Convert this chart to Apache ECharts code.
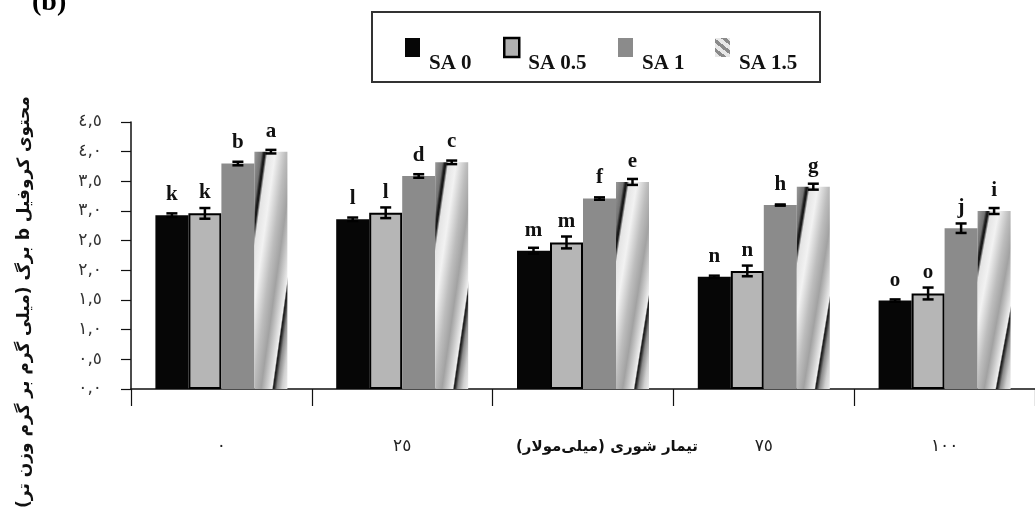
<!DOCTYPE html>
<html>
<head>
<meta charset="utf-8">
<script src="https://cdn.jsdelivr.net/npm/echarts@6/dist/echarts.min.js"></script>
<style>
  html, body { margin: 0; padding: 0; background: #fff; }
  #chart { width: 1035px; height: 516px; }
</style>
</head>
<body>
<div id="chart"></div>
<script>
// Salinity treatments (mM) and the tick labels printed under each group
const categories = ['0', '25', '50', '75', '100'];
const xTickLabels = ['٠', '٢٥', '', '٧٥', '١٠٠'];
const yTickLabels = ['٠,٠', '٠,٥', '١,٠', '١,٥', '٢,٠', '٢,٥', '٣,٠', '٣,٥', '٤,٠', '٤,٥'];

// Series names (salicylic acid levels)
const seriesNames = ['SA 0', 'SA 0.5', 'SA 1', 'SA 1.5'];

// Chlorophyll b content, mean values
const sa0  = [2.93, 2.86, 2.33, 1.89, 1.49];
const sa05 = [2.96, 2.97, 2.47, 1.99, 1.61];
const sa1  = [3.80, 3.59, 3.21, 3.10, 2.71];
const sa15 = [4.00, 3.82, 3.49, 3.41, 3.00];

// Standard errors
const err0  = [0.03, 0.03, 0.05, 0.02, 0.02];
const err05 = [0.09, 0.09, 0.10, 0.09, 0.10];
const err1  = [0.03, 0.03, 0.02, 0.01, 0.08];
const err15 = [0.03, 0.03, 0.05, 0.05, 0.05];

// Mean-separation letters
const let0  = ['k', 'l', 'm', 'n', 'o'];
const let05 = ['k', 'l', 'm', 'n', 'o'];
const let1  = ['b', 'd', 'f', 'h', 'j'];
const let15 = ['a', 'c', 'e', 'g', 'i'];

const yAxisTitle = 'محتوی کروفیل b برگ (میلی گرم بر گرم وزن تر)';
const xAxisTitle = 'تیمار شوری (میلی‌مولار)';
const panelTag = '(b)';

// ---- layout ----
const GRID = { left: 131, top: 122, width: 912, height: 267 };
const Y_MAX = 4.5;
const BAR_W = 33;
const PX_PER_UNIT = GRID.height / Y_MAX;
const ARABIC_FONT = "'DejaVu Sans', sans-serif";
const LATIN_FONT = "'Liberation Serif', 'Times New Roman', serif";
const RTL = s => '\u202B' + s + '\u202C';

// Shaded "twisted ribbon" fill whose bands run parallel to the bar's diagonal
const ribbonStops = [
  { offset: 0.00, color: '#9a9a9a' },
  { offset: 0.11, color: '#737373' },
  { offset: 0.145, color: '#1a1a1a' },
  { offset: 0.165, color: '#1a1a1a' },
  { offset: 0.20, color: '#e4e4e4' },
  { offset: 0.32, color: '#f2f2f2' },
  { offset: 0.48, color: '#bdbdbd' },
  { offset: 0.60, color: '#a2a2a2' },
  { offset: 0.72, color: '#dadada' },
  { offset: 0.765, color: '#efefef' },
  { offset: 0.785, color: '#1e1e1e' },
  { offset: 0.80, color: '#2a2a2a' },
  { offset: 0.84, color: '#8a8a8a' },
  { offset: 0.92, color: '#d0d0d0' },
  { offset: 1.00, color: '#eeeeee' }
];
function ribbonFill(value) {
  const h = Math.max(value * PX_PER_UNIT, 1);
  const w = BAR_W;
  const L2 = h * h + w * w;
  return {
    type: 'linear', x: 0, y: 0,
    x2: 2 * h * h / L2, y2: 2 * w * w / L2,
    colorStops: ribbonStops
  };
}

const stripeIcon = {
  type: 'linear', x: 0, y: 1, x2: 1, y2: 0,
  colorStops: [
    { offset: 0.00, color: '#e8e8e8' }, { offset: 0.16, color: '#e8e8e8' },
    { offset: 0.16, color: '#8a8a8a' }, { offset: 0.30, color: '#8a8a8a' },
    { offset: 0.30, color: '#e8e8e8' }, { offset: 0.46, color: '#e8e8e8' },
    { offset: 0.46, color: '#8a8a8a' }, { offset: 0.60, color: '#8a8a8a' },
    { offset: 0.60, color: '#e8e8e8' }, { offset: 0.76, color: '#e8e8e8' },
    { offset: 0.76, color: '#8a8a8a' }, { offset: 0.90, color: '#8a8a8a' },
    { offset: 0.90, color: '#e8e8e8' }, { offset: 1.00, color: '#e8e8e8' }
  ]
};

const means = [sa0, sa05, sa1, sa15];
const errs = [err0, err05, err1, err15];
const letters = [let0, let05, let1, let15];
const barStyles = [
  { color: '#060606' },
  { color: '#b6b6b6', borderColor: '#000', borderWidth: 2 },
  { color: '#8b8b8b' },
  null
];
const legendIconStyles = [
  { color: '#060606' },
  { color: '#b0b0b0', borderColor: '#000', borderWidth: 2.5 },
  { color: '#8b8b8b' },
  { color: stripeIcon }
];
const legendLeft = [405, 503, 618, 715];

const barSeries = means.map((vals, k) => ({
  name: seriesNames[k],
  type: 'bar',
  barWidth: BAR_W,
  barGap: '0%',
  data: vals.map((v, i) => ({
    value: v,
    itemStyle: k === 3 ? { color: ribbonFill(v) } : undefined
  })),
  itemStyle: barStyles[k] || {},
  label: {
    show: true,
    position: 'top',
    distance: 10,
    formatter: p => letters[k][p.dataIndex],
    fontFamily: LATIN_FONT,
    fontWeight: 'bold',
    fontSize: 21,
    color: '#111'
  },
  emphasis: { disabled: true },
  z: 2
}));

const errorSeries = means.map((vals, k) => ({
  type: 'custom',
  z: 5,
  silent: true,
  data: vals.map((v, i) => [i, v, errs[k][i]]),
  renderItem: (params, api) => {
    const idx = api.value(0), v = api.value(1), e = api.value(2);
    const base = api.coord([idx, v]);
    const x = base[0] + (k - 1.5) * BAR_W;
    const yHi = api.coord([idx, v + e])[1];
    const yLo = api.coord([idx, v - e])[1];
    const cap = 5.5;
    const style = { stroke: '#000', lineWidth: 2.5 };
    return {
      type: 'group',
      children: [
        { type: 'line', shape: { x1: x, y1: yHi, x2: x, y2: yLo }, style },
        { type: 'line', shape: { x1: x - cap, y1: yHi, x2: x + cap, y2: yHi }, style },
        { type: 'line', shape: { x1: x - cap, y1: yLo, x2: x + cap, y2: yLo }, style }
      ]
    };
  }
}));

const legends = seriesNames.map((name, k) => ({
  data: [{ name, itemStyle: legendIconStyles[k] }],
  left: legendLeft[k],
  top: 21,
  padding: 0,
  icon: 'rect',
  itemWidth: 15,
  itemHeight: 19,
  selectedMode: false,
  formatter: '{t|{name}}',
  textStyle: {
    rich: {
      t: {
        fontFamily: LATIN_FONT,
        fontWeight: 'bold',
        fontSize: 21,
        color: '#111',
        lineHeight: 22,
        padding: [32, 0, 0, 4]
      }
    }
  }
}));

const chart = echarts.init(document.getElementById('chart'), null, { renderer: 'canvas' });
chart.setOption({
  backgroundColor: '#fff',
  animation: false,
  legend: legends,
  grid: Object.assign({ containLabel: false }, GRID),
  xAxis: {
    type: 'category',
    data: categories,
    axisLine: { lineStyle: { color: '#111', width: 1.5 } },
    axisTick: { show: true, length: 17, lineStyle: { color: '#111', width: 1.2 } },
    axisLabel: {
      margin: 49,
      formatter: (val, idx) => xTickLabels[idx],
      fontFamily: ARABIC_FONT,
      fontSize: 17,
      color: '#222'
    },
    splitLine: { show: false }
  },
  yAxis: {
    type: 'value',
    min: 0,
    max: Y_MAX,
    interval: 0.5,
    axisLine: { show: true, lineStyle: { color: '#111', width: 1.5 } },
    axisTick: { show: true, length: 10, lineStyle: { color: '#111', width: 1.2 } },
    axisLabel: {
      margin: 29,
      formatter: v => yTickLabels[Math.round(v / 0.5)],
      fontFamily: ARABIC_FONT,
      fontSize: 17,
      color: '#333'
    },
    splitLine: { show: false }
  },
  graphic: [
    {
      type: 'rect',
      shape: { x: 372, y: 12, width: 448, height: 70 },
      style: { fill: 'none', stroke: '#333', lineWidth: 2 },
      silent: true
    },
    {
      type: 'text',
      x: 32, y: 17,
      style: {
        text: panelTag,
        font: "bold 28px 'Liberation Serif', serif",
        fill: '#000',
        textAlign: 'left',
        textVerticalAlign: 'bottom'
      }
    },
    {
      type: 'text',
      x: 25, y: 302,
      rotation: Math.PI / 2,
      style: {
        text: RTL(yAxisTitle),
        font: "bold 17px 'DejaVu Sans', sans-serif",
        fill: '#111',
        textAlign: 'center',
        textVerticalAlign: 'middle'
      }
    },
    {
      type: 'text',
      x: 607, y: 447,
      style: {
        text: RTL(xAxisTitle),
        font: "bold 15px 'DejaVu Sans', sans-serif",
        fill: '#111',
        textAlign: 'center',
        textVerticalAlign: 'middle'
      }
    }
  ],
  series: barSeries.concat(errorSeries)
});
</script>
</body>
</html>
